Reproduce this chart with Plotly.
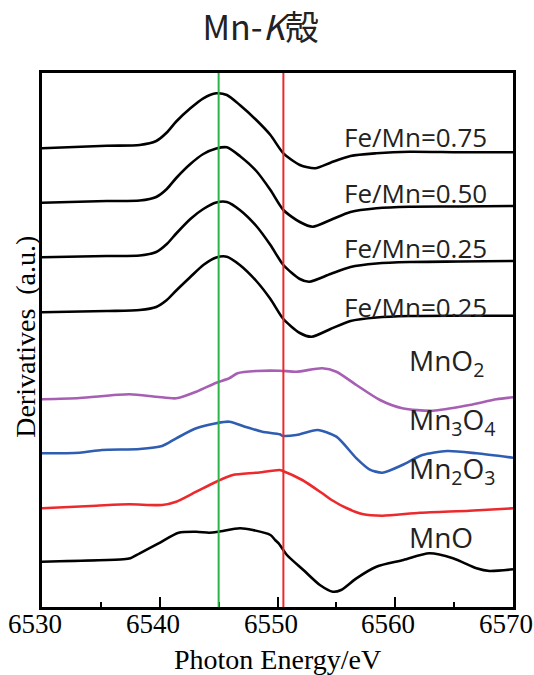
import plotly.graph_objects as go

# ---- data (energy in eV, derivative in arbitrary units incl. vertical offset) ----
fe075_x = [6530.0, 6535.5, 6538.3, 6539.7, 6540.6, 6541.4, 6542.6, 6543.7, 6544.8, 6545.7, 6546.8, 6548.2, 6549.4, 6550.5, 6551.9, 6553.2, 6554.5, 6556.2, 6558.4, 6561.2, 6565.5, 6570.0]
fe075_y = [458.7, 461.3, 462.0, 466.0, 474.5, 485.5, 498.7, 508.7, 513.7, 512.0, 502.0, 487.0, 472.0, 453.7, 442.0, 438.7, 444.3, 451.0, 453.7, 455.3, 454.7, 454.7]

fe050_x = [6530.0, 6535.5, 6538.3, 6539.7, 6540.6, 6541.4, 6542.6, 6543.7, 6544.8, 6545.7, 6546.8, 6548.2, 6549.4, 6550.5, 6551.9, 6553.0, 6554.5, 6556.2, 6558.4, 6561.2, 6565.5, 6570.0]
fe050_y = [404.3, 406.0, 406.5, 410.0, 418.0, 429.0, 443.0, 453.0, 458.5, 459.7, 451.0, 436.0, 417.0, 397.0, 385.0, 380.3, 387.0, 395.0, 398.7, 400.3, 400.5, 401.0]

fe025a_x = [6530.0, 6535.5, 6538.3, 6539.7, 6540.6, 6541.4, 6542.6, 6543.7, 6544.8, 6545.7, 6546.8, 6548.2, 6549.4, 6550.5, 6551.9, 6552.7, 6554.5, 6556.2, 6558.4, 6561.2, 6565.5, 6570.0]
fe025a_y = [349.7, 351.0, 351.5, 355.0, 363.0, 373.5, 388.0, 398.0, 404.5, 405.0, 397.0, 381.0, 362.0, 342.0, 328.0, 325.3, 333.0, 340.0, 343.5, 345.0, 345.5, 346.0]

fe025b_x = [6530.0, 6535.5, 6538.3, 6539.7, 6540.6, 6541.4, 6542.6, 6543.7, 6544.8, 6545.7, 6546.8, 6548.2, 6549.4, 6550.5, 6551.9, 6552.9, 6554.5, 6556.2, 6558.4, 6561.2, 6565.5, 6570.0]
fe025b_y = [294.7, 296.0, 297.0, 300.0, 307.0, 316.5, 330.0, 342.0, 349.5, 350.3, 342.0, 326.0, 308.0, 288.0, 274.0, 270.3, 278.0, 286.0, 289.5, 291.0, 291.3, 291.3]

mno2_x = [6530.0, 6533.2, 6537.4, 6539.7, 6541.4, 6543.1, 6544.8, 6545.9, 6546.6, 6548.2, 6550.2, 6551.6, 6553.8, 6555.0, 6556.7, 6558.7, 6560.6, 6563.2, 6566.3, 6568.6, 6570.0]
mno2_y = [207.7, 209.0, 212.7, 210.3, 208.7, 215.3, 224.3, 228.7, 233.7, 236.0, 236.3, 235.3, 238.7, 235.3, 222.0, 207.0, 198.7, 196.3, 202.0, 207.7, 209.7]

mn3o4_x = [6530.0, 6533.2, 6535.1, 6538.3, 6540.2, 6541.4, 6543.1, 6544.8, 6545.9, 6547.4, 6548.7, 6550.2, 6550.4, 6551.6, 6553.4, 6555.0, 6556.7, 6557.8, 6558.9, 6560.6, 6562.3, 6564.4, 6566.9, 6570.0]
mn3o4_y = [153.7, 154.3, 157.0, 158.0, 161.0, 168.7, 178.7, 183.7, 185.3, 179.7, 175.3, 172.7, 171.3, 172.0, 177.0, 170.3, 148.7, 137.7, 134.3, 142.0, 152.0, 156.0, 153.7, 149.3]

mn2o3_x = [6530.0, 6534.6, 6537.4, 6540.2, 6541.4, 6543.1, 6544.8, 6546.2, 6548.2, 6550.2, 6550.4, 6552.1, 6553.8, 6554.6, 6555.9, 6557.2, 6558.9, 6562.1, 6566.3, 6570.0]
mn2o3_y = [98.7, 101.3, 102.7, 102.0, 105.3, 115.3, 125.3, 132.0, 134.3, 137.0, 136.3, 127.0, 113.7, 107.0, 98.7, 93.0, 91.3, 94.3, 96.3, 98.7]

mno_x = [6530.0, 6536.9, 6537.5, 6538.3, 6539.9, 6541.6, 6543.1, 6544.2, 6545.0, 6546.8, 6547.9, 6549.4, 6549.8, 6550.1, 6550.8, 6552.2, 6553.6, 6554.7, 6555.4, 6556.7, 6558.4, 6560.7, 6562.9, 6564.9, 6566.9, 6568.0, 6570.0]
mno_y = [45.3, 47.7, 48.7, 53.7, 63.7, 74.3, 75.3, 74.3, 75.3, 78.7, 77.0, 72.0, 67.0, 63.7, 52.0, 37.0, 22.0, 15.3, 17.0, 28.7, 40.3, 47.0, 53.7, 48.7, 38.7, 36.0, 37.7]

green_line_e = 6545.0
red_line_e = 6550.5

x_ticks = [6530, 6540, 6550, 6560, 6570]
x_tick_labels = ["6530", "6540", "6550", "6560", "6570"]

series = [
    (fe075_x, fe075_y, "black"),
    (fe050_x, fe050_y, "black"),
    (fe025a_x, fe025a_y, "black"),
    (fe025b_x, fe025b_y, "black"),
    (mno2_x, mno2_y, "#a65fb3"),
    (mn3o4_x, mn3o4_y, "#2e5db1"),
    (mn2o3_x, mn2o3_y, "#ec2a2e"),
    (mno_x, mno_y, "black"),
]

fig = go.Figure()
for xs, ys, col in series:
    fig.add_trace(go.Scatter(x=xs, y=ys, mode="lines",
                             line=dict(color=col, width=2.6, shape="spline", smoothing=0.7),
                             showlegend=False, hoverinfo="skip"))

fig.add_vline(x=green_line_e, line=dict(color="#2cb34a", width=2))
fig.add_vline(x=red_line_e, line=dict(color="#ec2a2e", width=2))

sans = "Open Sans, Noto Sans CJK JP, sans-serif"
serif = "Liberation Serif, DejaVu Serif, serif"

fe_labels = [("Fe/Mn=0.75", 470), ("Fe/Mn=0.50", 414), ("Fe/Mn=0.25", 359), ("Fe/Mn=0.25", 300)]
for txt, yv in fe_labels:
    fig.add_annotation(x=6568.0, y=yv, text=txt, showarrow=False, xanchor="right",
                       yanchor="middle", font=dict(family=sans, size=26, color="#222222"))

cmp_labels = [("MnO<sub>2</sub>", 245), ("Mn<sub>3</sub>O<sub>4</sub>", 186), ("Mn<sub>2</sub>O<sub>3</sub>", 137), ("MnO", 70)]
for txt, yv in cmp_labels:
    fig.add_annotation(x=6561.0, y=yv, text=txt, showarrow=False, xanchor="left",
                       yanchor="middle", font=dict(family=sans, size=28, color="#222222"))

# x tick labels (drawn as annotations to match the reference's placement)
for tv, tl in zip(x_ticks, x_tick_labels):
    fig.add_annotation(x=tv, xref="x", yref="paper", y=0, yshift=-17, xshift=-7,
                       text=tl, showarrow=False, xanchor="center", yanchor="middle",
                       font=dict(family=serif, size=27, color="black"))

fig.add_annotation(xref="paper", yref="paper", x=0.5, y=0, yshift=-52, text="Photon Energy/eV",
                   showarrow=False, xanchor="center", yanchor="middle",
                   font=dict(family=serif, size=28, color="black"))

fig.add_annotation(xref="paper", yref="paper", x=-0.034, y=0.506, text="Derivatives  (a.u.)",
                   textangle=-90, showarrow=False, xanchor="center", yanchor="middle",
                   font=dict(family=serif, size=28, color="black"))

fig.update_layout(
    width=534, height=675,
    margin=dict(l=42, r=21, t=73, b=68),
    paper_bgcolor="white", plot_bgcolor="white",
    title=dict(text="Mn-<i>K</i>殻", x=0.488, xanchor="center", y=0.958, yanchor="middle",
               font=dict(family="Noto Sans CJK JP, sans-serif", size=34, color="#222222")),
    xaxis=dict(range=[6530, 6570], tickvals=x_ticks, showticklabels=False,
               ticks="inside", ticklen=10, tickwidth=1.5, tickcolor="black",
               minor=dict(dtick=5, ticks="inside", ticklen=5, tickwidth=1.5, tickcolor="black"),
               showline=True, linecolor="black", linewidth=2.5, mirror=True,
               showgrid=False, zeroline=False, automargin=False),
    yaxis=dict(range=[0, 534], showticklabels=False, ticks="", showline=True, automargin=False,
               linecolor="black", linewidth=2.5, mirror=True, showgrid=False, zeroline=False),
)

fig.write_html("out.html", config={"displayModeBar": False},
               post_script="document.body.style.margin='0px';document.body.style.overflow='hidden';")
